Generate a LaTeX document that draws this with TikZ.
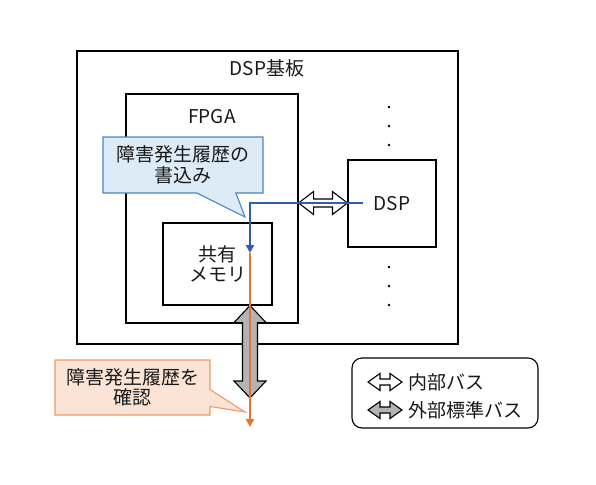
\documentclass[tikz,border=0pt]{standalone}
\usepackage{fontspec}
\setmainfont{Noto Sans CJK JP}
\usetikzlibrary{calc,shapes.callouts,arrows.meta}
\definecolor{wblue}{HTML}{2F5EAF}
\definecolor{rorange}{HTML}{E97132}
\definecolor{bfill}{HTML}{DDEBF7}
\definecolor{bline}{HTML}{4A84C4}
\definecolor{ofill}{HTML}{FBE4D5}
\definecolor{oline}{HTML}{EE9A63}
\definecolor{busgray}{HTML}{B3B3B3}
\tikzset{
    box/.style={draw,line width=1.1pt,inner sep=0pt},
    txt/.style={font=\fontsize{19}{20.5}\selectfont,text=black!90,inner sep=0pt,align=center},
}
\newcommand\busarrow[6]{%
    \draw [line width=1.1pt,fill=#1]
        (#2)
        -- ($($(#2)!#6!(#3)$)!#5!90:(#3)$)
        -- ($($(#2)!#6!(#3)$)!#4!90:(#3)$)
        -- ($($(#3)!#6!(#2)$)!#4!-90:(#2)$)
        -- ($($(#3)!#6!(#2)$)!#5!-90:(#2)$)
        -- (#3)
        -- ($($(#3)!#6!(#2)$)!#5!90:(#2)$)
        -- ($($(#3)!#6!(#2)$)!#4!90:(#2)$)
        -- ($($(#2)!#6!(#3)$)!#4!-90:(#3)$)
        -- ($($(#2)!#6!(#3)$)!#5!-90:(#3)$)
        -- cycle;}
\begin{document}
\begin{tikzpicture}[x=1pt,y=-1pt]
    \useasboundingbox (0,0) rectangle (596,484);
    \node [box,minimum width=381,minimum height=293] (board) at (267.5,197.5) {};
    \node [txt] (boardlbl) at (267,68) {DSP基板};
    \node [box,minimum width=172,minimum height=229] (fpga) at (212,208.5) {};
    \node [txt] (fpgalbl) at (212,117) {FPGA};
    \node [box,minimum width=109,minimum height=82,txt] (mem) at (217.5,264) {共有\\メモリ};
    \node [box,minimum width=88,minimum height=87,txt] (dsp) at (392,203.5) {DSP};
    \foreach \y in {107,126,145,267,286,305} {
        \fill (389,\y) circle (1.4);
    }
    \coordinate (dspin) at (363,203);
    \coordinate (memin) at (250,253);
    \coordinate (outside) at (250,427);
    \coordinate (busend) at (250,398);
    \busarrow{white}{fpga.east|-dspin}{dsp.west|-dspin}{4pt}{11.5pt}{15pt}
    \busarrow{busgray}{mem.south-|memin}{busend}{7.5pt}{16pt}{17pt}
    \draw [wblue,line width=2.6pt,-{Triangle[length=8pt,width=8pt]}] (dspin) -- (dspin-|memin) -- (memin);
    \draw [rorange,line width=2.6pt,-{Triangle[length=8pt,width=8pt]}] (memin) -- (outside);
    \node [rectangle callout,draw=bline,line width=1.1pt,fill=bfill,txt,minimum width=160,minimum height=56,
        callout absolute pointer={(245,217)},callout pointer width=39] (wrnote) at (183,165) {障害発生履歴の\\書込み};
    \node [rectangle callout,draw=oline,line width=1.1pt,fill=ofill,txt,minimum width=155,minimum height=55,
        callout absolute pointer={(245,412)},callout pointer width=17] (rdnote) at (132.5,387.5) {障害発生履歴を\\確認};
    \node [draw,line width=1.1pt,rounded corners=10pt,minimum width=186,minimum height=70] (legend) at (445,393) {};
    \coordinate (lginl) at (368,382);
    \coordinate (lginr) at (402,382);
    \coordinate (lgexl) at (368,410);
    \coordinate (lgexr) at (402,410);
    \busarrow{white}{lginl}{lginr}{3pt}{8.5pt}{12pt}
    \busarrow{busgray}{lgexl}{lgexr}{3pt}{8.5pt}{12pt}
    \node [txt,anchor=west] (lgintxt) at (408,382) {内部バス};
    \node [txt,anchor=west] (lgextxt) at (408,410) {外部標準バス};
\end{tikzpicture}
\end{document}
